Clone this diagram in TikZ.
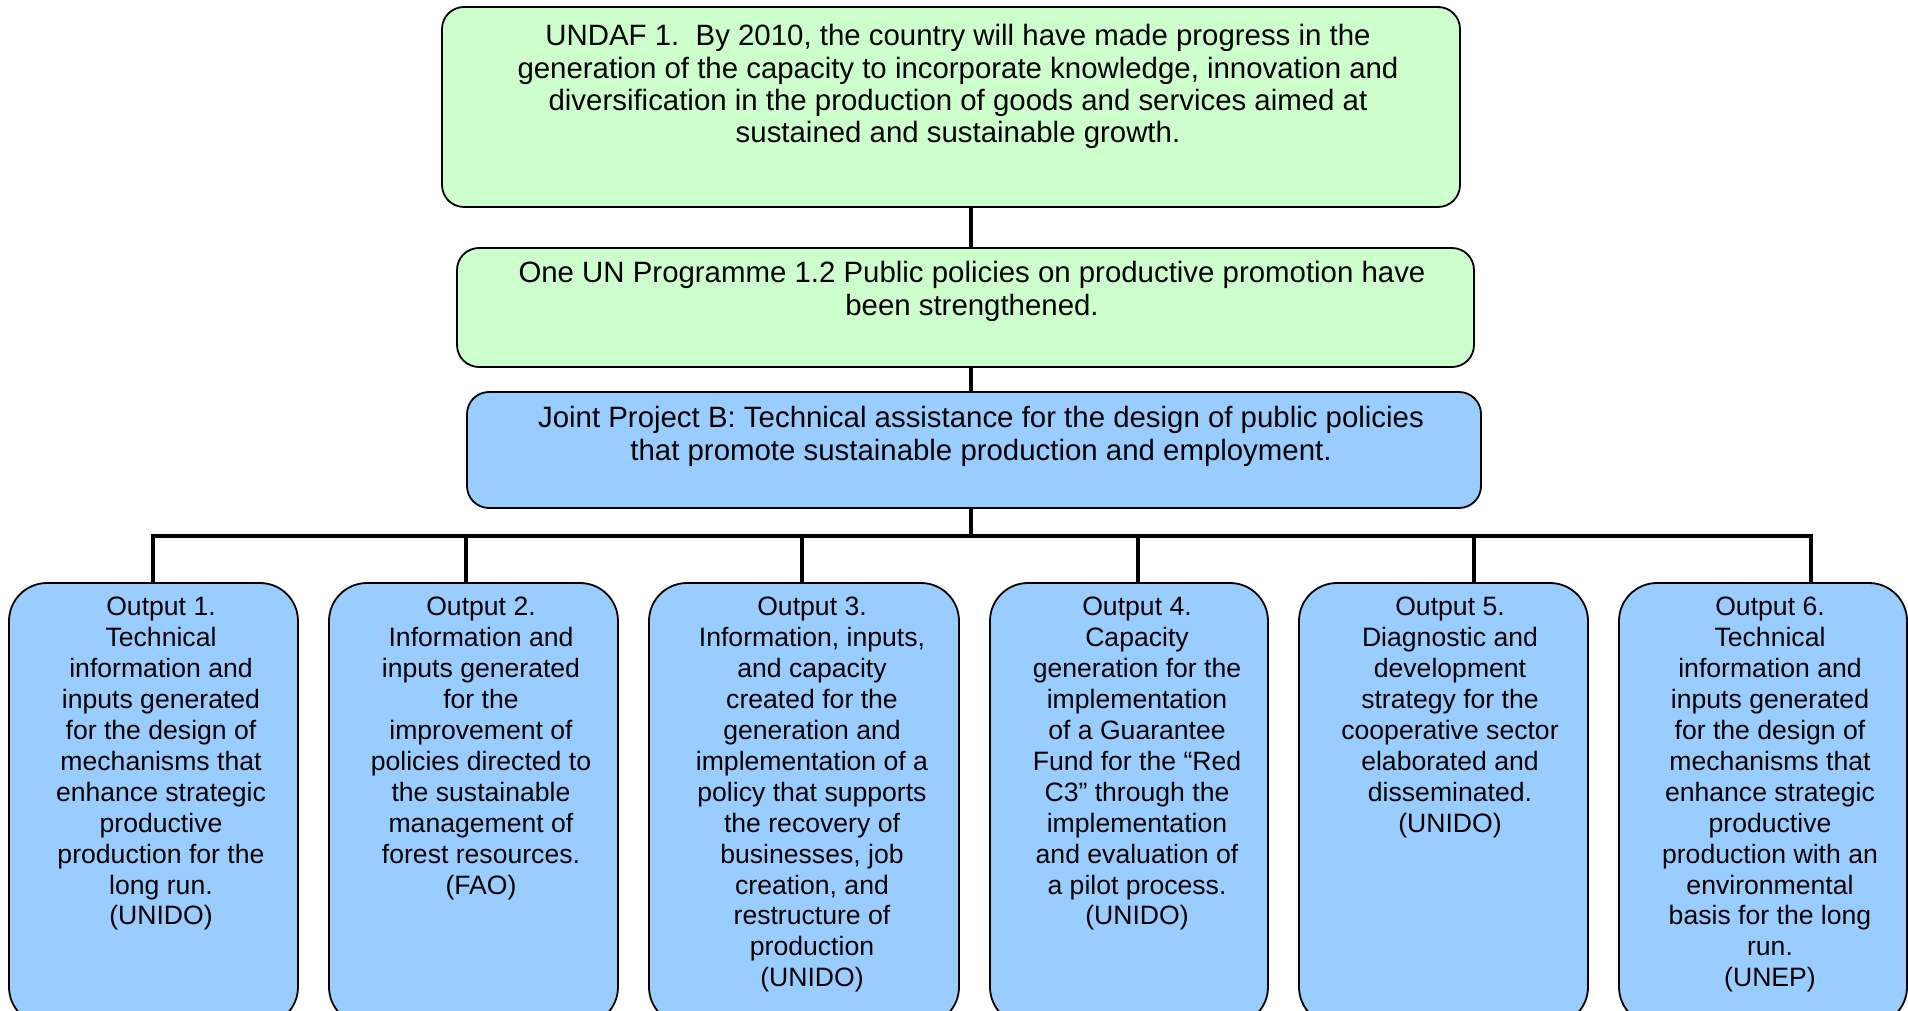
\documentclass[tikz,border=0pt]{standalone}
\usepackage{fontspec}
\setmainfont{Liberation Sans}
\begin{document}
\begin{tikzpicture}[x=0.5pt,y=-0.5pt,
  greenbox/.style={draw=black,line width=0.9pt,fill={rgb,255:red,204;green,255;blue,204},rounded corners=11pt,inner sep=0pt},
  bluebox/.style={draw=black,line width=0.9pt,fill={rgb,255:red,153;green,204;blue,255},rounded corners=11pt,inner sep=0pt},
  outbox/.style={draw=black,line width=0.9pt,fill={rgb,255:red,153;green,204;blue,255},rounded corners=19pt,inner sep=0pt,minimum height=221pt},
  toptext/.style={anchor=north,inner sep=0pt,align=center,font=\fontsize{14.7}{16.2}\selectfont},
  outtext/.style={anchor=north,inner sep=0pt,align=center,font=\fontsize{13.3}{15.45}\selectfont},
  conn/.style={line width=2.3pt}]
\useasboundingbox (0,0) rectangle (1908,1011);
\clip (0,0) rectangle (1908,1011);
% top boxes
\node[greenbox,minimum width=509pt,minimum height=100pt] (top) at (951,107) {};
\node[greenbox,minimum width=508.5pt,minimum height=59.5pt] (prog) at (965.5,307.5) {};
\node[bluebox,minimum width=507pt,minimum height=58pt] (proj) at (974,450) {};
\node[toptext] (toptxt) at (958,24) {UNDAF 1.\ \ By 2010, the country will have made progress in the\\generation of the capacity to incorporate knowledge, innovation and\\diversification in the production of goods and services aimed at\\sustained and sustainable growth.};
\node[toptext] (progtxt) at (972,261) {One UN Programme 1.2 Public policies on productive promotion have\\been strengthened.};
\node[toptext] (projtxt) at (981,406) {Joint Project B: Technical assistance for the design of public policies\\that promote sustainable production and employment.};
% output boxes
\node[outbox,minimum width=144.5pt] (o1) at (153.5,804) {};
\node[outbox,minimum width=144.5pt] (o2) at (473.5,804) {};
\node[outbox,minimum width=155pt] (o3) at (804,804) {};
\node[outbox,minimum width=139pt] (o4) at (1129,804) {};
\node[outbox,minimum width=144.5pt] (o5) at (1443.5,804) {};
\node[outbox,minimum width=144pt] (o6) at (1763,804) {};
\node[outtext] (t1) at (161,597) {Output 1.\\Technical\\information and\\inputs generated\\for the design of\\mechanisms that\\enhance strategic\\productive\\production for the\\long run.\\(UNIDO)};
\node[outtext] (t2) at (481,597) {Output 2.\\Information and\\inputs generated\\for the\\improvement of\\policies directed to\\the sustainable\\management of\\forest resources.\\(FAO)};
\node[outtext] (t3) at (812,597) {Output 3.\\Information, inputs,\\and capacity\\created for the\\generation and\\implementation of a\\policy that supports\\the recovery of\\businesses, job\\creation, and\\restructure of\\production\\(UNIDO)};
\node[outtext] (t4) at (1137,597) {Output 4.\\Capacity\\generation for the\\implementation\\of a Guarantee\\Fund for the “Red\\C3” through the\\implementation\\and evaluation of\\a pilot process.\\(UNIDO)};
\node[outtext] (t5) at (1450,597) {Output 5.\\Diagnostic and\\development\\strategy for the\\cooperative sector\\elaborated and\\disseminated.\\(UNIDO)};
\node[outtext] (t6) at (1770,597) {Output 6.\\Technical\\information and\\inputs generated\\for the design of\\mechanisms that\\enhance strategic\\productive\\production with an\\environmental\\basis for the long\\run.\\(UNEP)};
% connector coordinates
\coordinate (c0) at (971,0);
\coordinate (bus) at (0,536);
\coordinate (d1) at (153,0);
\coordinate (d2) at (466,0);
\coordinate (d3) at (802,0);
\coordinate (d4) at (1138,0);
\coordinate (d5) at (1474,0);
\coordinate (d6) at (1811,0);
\draw[conn] (top.south -| c0) -- (prog.north -| c0);
\draw[conn] (prog.south -| c0) -- (proj.north -| c0);
\draw[conn] (proj.south -| c0) -- (bus -| c0);
\draw[conn] (o1.north -| d1) |- (bus -| d6) -- (o6.north -| d6);
\draw[conn] (bus -| d2) -- (o2.north -| d2);
\draw[conn] (bus -| d3) -- (o3.north -| d3);
\draw[conn] (bus -| d4) -- (o4.north -| d4);
\draw[conn] (bus -| d5) -- (o5.north -| d5);
\end{tikzpicture}
\end{document}
